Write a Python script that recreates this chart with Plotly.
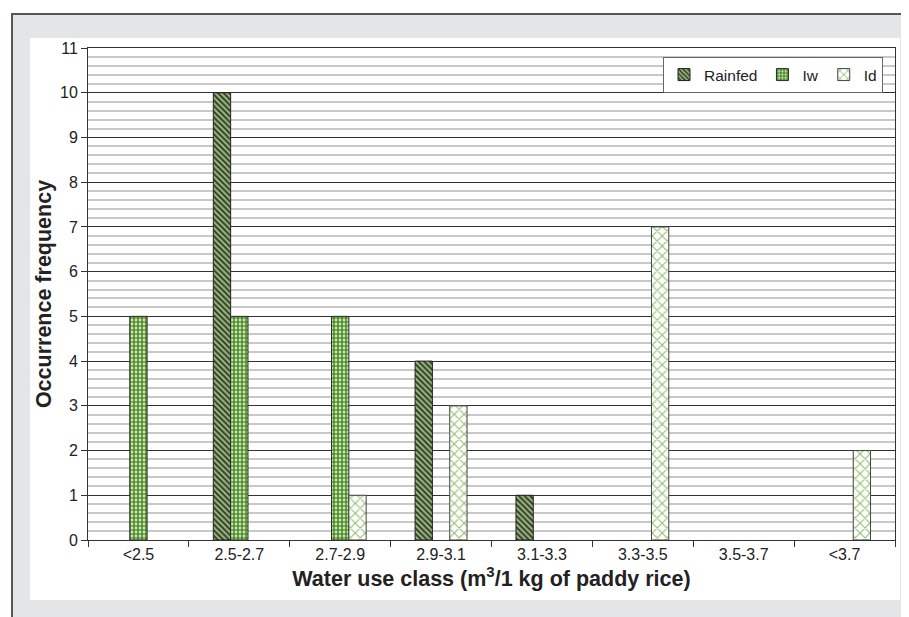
import plotly.graph_objects as go

categories = ["<2.5", "2.5-2.7", "2.7-2.9", "2.9-3.1", "3.1-3.3", "3.3-3.5", "3.5-3.7", "<3.7"]
rainfed = [0, 10, 0, 4, 1, 0, 0, 0]
iw = [5, 5, 5, 0, 0, 0, 0, 0]
id_ = [0, 0, 1, 3, 0, 7, 0, 2]

FONT = "Liberation Sans, Arial, sans-serif"

def ordered(vals):
    # non-zero bars first so the legend swatch takes an outlined bar's style;
    # the axis keeps the category order through categoryarray
    pairs = sorted(zip(categories, vals), key=lambda p: p[1] == 0)
    return [p[0] for p in pairs], [p[1] for p in pairs]

def outline_colors(vals, col):
    return [col if v else "rgba(0,0,0,0)" for v in vals]

styles = [
    ("Rainfed", rainfed, "#222222",
     dict(shape="\\", fgcolor="#2a3322", bgcolor="#98b47c", size=4, solidity=0.45)),
    ("Iw", iw, "#2a2a2a",
     dict(shape=".", fgcolor="#4f9026", bgcolor="#ffffff", size=4, solidity=0.7)),
    ("Id", id_, "#444444",
     dict(shape="x", fgcolor="#93c070", bgcolor="#ffffff", size=7, solidity=0.3)),
]

fig = go.Figure()
for name, vals, lc, pat in styles:
    xs, ys = ordered(vals)
    fig.add_trace(go.Bar(
        x=xs, y=ys, name=name,
        marker=dict(color=pat["bgcolor"],
                    line=dict(color=outline_colors(ys, lc), width=1),
                    pattern=dict(fillmode="replace", **pat)),
    ))

# page offset (body margin) of 8 px
OFF = 8
FW, FH = 909 - OFF, 617 - OFF
# plot area in reference pixel coords
L, R, T, B = 88, 895, 48, 540
W, H = R - L, B - T
def px(x):
    return (x - L) / W
def py(y):
    return (B - y) / H

shapes = [
    dict(type="rect", xref="paper", yref="paper", layer="below",
         x0=px(12), x1=px(940), y0=py(14), y1=py(650),
         fillcolor="#e4e5e7", line=dict(color="#555555", width=2)),
    dict(type="rect", xref="paper", yref="paper", layer="below",
         x0=px(30), x1=px(900), y0=py(38), y1=py(600),
         fillcolor="#ffffff", line=dict(width=0)),
]

fig.update_layout(
    width=FW, height=FH,
    margin=dict(l=L - OFF, r=909 - R, t=T - OFF, b=617 - B),
    paper_bgcolor="#ffffff",
    plot_bgcolor="#ffffff",
    barmode="group",
    bargap=0.485,
    bargroupgap=0,
    font=dict(family=FONT, size=16, color="#222222"),
    shapes=shapes,
    showlegend=True,
    legend=dict(
        orientation="h", x=px(883), xanchor="right", y=py(57), yanchor="top",
        bgcolor="#ffffff", bordercolor="#666666", borderwidth=1,
        font=dict(family=FONT, size=15.5, color="#222222"),
        itemwidth=30, tracegroupgap=0,
    ),
)

fig.update_xaxes(
    type="category", categoryorder="array", categoryarray=categories,
    showline=True, linecolor="#333333", linewidth=1, mirror=True,
    ticks="outside", tickson="boundaries", ticklen=6, tickcolor="#333333",
    tickfont=dict(family=FONT, size=16, color="#222222"),
    showgrid=False,
    title=dict(text="Water use class (m<sup>3</sup>/1 kg of paddy rice)",
               font=dict(family=FONT, size=21.5, color="#222222", weight="bold"),
               standoff=7),
)
fig.update_yaxes(
    range=[0, 11], dtick=1, tick0=0,
    showline=True, linecolor="#333333", linewidth=1, mirror=True,
    ticks="outside", ticklen=6, tickcolor="#333333",
    tickfont=dict(family=FONT, size=16, color="#222222"),
    showgrid=True, gridcolor="#333333", gridwidth=1,
    minor=dict(dtick=0.2, showgrid=True, gridcolor="#c8c8c8", gridwidth=1.5, ticks=""),
    zeroline=False,
    title=dict(text="Occurrence frequency",
               font=dict(family=FONT, size=21.5, color="#222222", weight="bold"),
               standoff=2),
)

fig.write_html("out.html")
